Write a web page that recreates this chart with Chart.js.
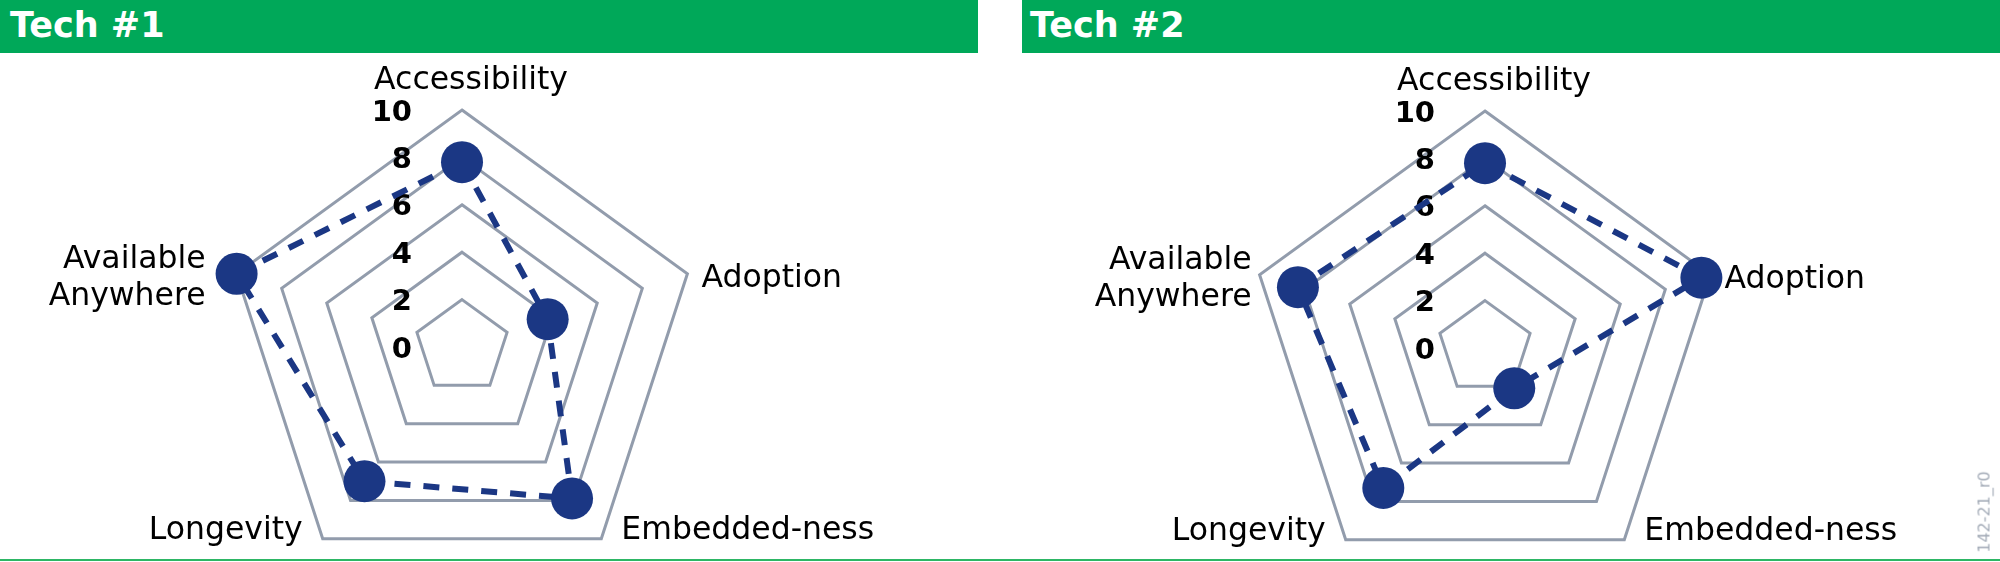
<!DOCTYPE html>
<html>
<head>
<meta charset="utf-8">
<script src="https://cdn.jsdelivr.net/npm/chart.js@4.4.1/dist/chart.umd.min.js"></script>
<style>
  html, body { margin: 0; padding: 0; width: 2000px; height: 562px; overflow: hidden; background: #fff; font-family: "DejaVu Sans", sans-serif; }
  .cabecalho { position: absolute; top: 0; height: 53px; width: 978px; background: #00a859; color: #fff; font-weight: bold; font-size: 35px; line-height: 50px; box-sizing: border-box; z-index: 2; white-space: nowrap; }
  canvas { position: absolute; top: 0; }
  #linhaBase { position: absolute; left: 0; top: 559px; width: 2000px; height: 2px; background: #2db665; }
  #codigo { position: absolute; left: 1984px; top: 512px; transform: translate(-50%, -50%) rotate(-90deg); font-size: 16px; color: #a3abb7; white-space: nowrap; }
</style>
</head>
<body>
<div class="cabecalho" style="left:0; padding-left:10px;">Tech #1</div>
<div class="cabecalho" style="left:1022px; padding-left:8px;">Tech #2</div>
<canvas id="grafico1" width="1000" height="700" style="left:0"></canvas>
<canvas id="grafico2" width="1000" height="700" style="left:1023px"></canvas>
<div id="linhaBase"></div>
<div id="codigo">142-21_r0</div>
<script>
// Dados
const categorias = ['Accessibility', 'Adoption', 'Embedded-ness', 'Longevity', ['Available', 'Anywhere']];
const tech1 = [7.8, 3.8, 7.9, 7.0, 10];
const tech2 = [7.8, 9.6, 2.1, 7.3, 8.3];
const valoresEscala = [0, 2, 4, 6, 8, 10];
const rotulosEscala = ['0', '2', '4', '6', '8', '10'];

const corLinha = '#1b3784';
const corGrade = '#929cac';

// Plugin para desenhar os números da escala e os nomes dos eixos
const rotulosPlugin = {
    id: 'rotulos',
    beforeDatasetsDraw(chart, args, opts) {
        const escala = chart.scales.r;
        const ctx = chart.ctx;
        ctx.save();
        ctx.fillStyle = '#000';

        // Números da escala, à esquerda do eixo de cima
        ctx.font = 'bold 29px "DejaVu Sans"';
        ctx.textAlign = 'right';
        ctx.textBaseline = 'middle';
        valoresEscala.forEach((v, i) => {
            const y = escala.yCenter - escala.getDistanceFromCenterForValue(v);
            ctx.fillText(rotulosEscala[i], escala.xCenter - 50, y + 3);
        });

        // Nomes dos eixos
        ctx.font = '31.5px "DejaVu Sans"';
        ctx.textBaseline = 'alphabetic';
        chart.data.labels.forEach((rotulo, i) => {
            const linhas = [].concat(rotulo);
            const p = escala.getPointPosition(i, escala.drawingArea);
            const dx = p.x - escala.xCenter;
            const dy = p.y - escala.yCenter;
            let x, y;
            if (Math.abs(dx) < 1) {
                ctx.textAlign = 'center';
                x = p.x + 9;
                y = p.y - 21 - (linhas.length - 1) * 37;
            } else if (dy > 0) {
                ctx.textAlign = dx > 0 ? 'left' : 'right';
                x = p.x + Math.sign(dx) * 20;
                y = p.y;
            } else {
                ctx.textAlign = dx > 0 ? 'left' : 'right';
                x = p.x + (dx > 0 ? 14 : -opts.margemEsquerda);
                y = p.y + 13 - (linhas.length - 1) * 18.5;
            }
            linhas.forEach((linha, k) => ctx.fillText(linha, x, y + k * 37));
        });
        ctx.restore();
    }
};

// Função para criar um gráfico de radar
function criarGrafico(id, valores, margemEsquerda, paddingTopo) {
    const config = {
        type: 'radar',
        data: {
            labels: categorias,
            datasets: [{
                data: valores,
                borderColor: corLinha,
                backgroundColor: corLinha,
                borderWidth: 6,
                borderDash: [16, 13],
                fill: false,
                clip: false,
                pointRadius: 21,
                pointHoverRadius: 21,
                pointBackgroundColor: corLinha,
                pointBorderWidth: 0
            }]
        },
        options: {
            responsive: false,
            animation: false,
            devicePixelRatio: 1,
            layout: {
                padding: { left: 225, right: 301, top: paddingTopo, bottom: 700 - paddingTopo - 474 }
            },
            plugins: {
                legend: { display: false },
                tooltip: { enabled: false },
                rotulos: { margemEsquerda: margemEsquerda }
            },
            scales: {
                r: {
                    min: valoresEscala[0],
                    max: valoresEscala[valoresEscala.length - 1],
                    ticks: { display: false, stepSize: valoresEscala[1] - valoresEscala[0] },
                    grid: { color: corGrade, lineWidth: 3 },
                    angleLines: { display: false },
                    pointLabels: { display: false }
                }
            }
        },
        plugins: [rotulosPlugin]
    };

    const ctx = document.getElementById(id);
    return new Chart(ctx, config);
}

criarGrafico('grafico1', tech1, 31, 110);
criarGrafico('grafico2', tech2, 8, 111);
</script>
</body>
</html>
